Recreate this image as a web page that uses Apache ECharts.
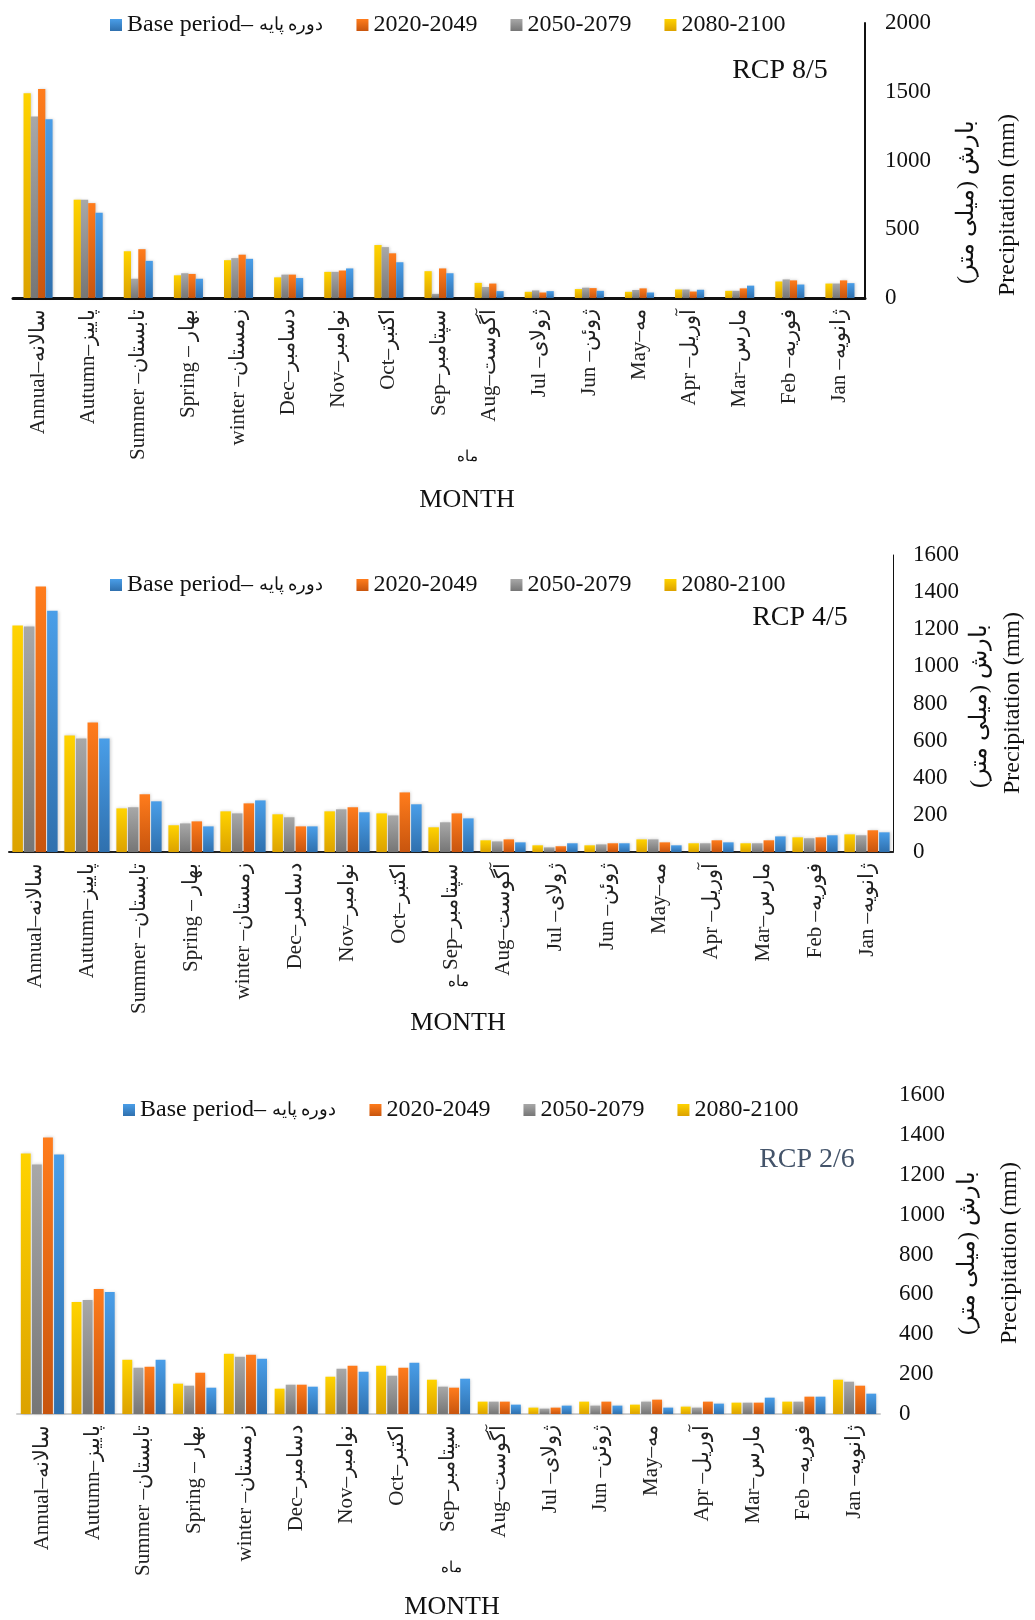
<!DOCTYPE html>
<html>
<head>
<meta charset="utf-8">
<script src="https://cdn.jsdelivr.net/npm/echarts@6/dist/echarts.min.js"></script>
<style>
  html, body { margin: 0; padding: 0; background: #fff; }
  #chart { width: 1035px; height: 1620px; }
</style>
</head>
<body>
<div id="chart"></div>
<script>
// categories (reversed axis in the original, so Annual comes first)
const categories = [
  'Annual–سالانه', 'Autumn–پاییز', 'Summer –تابستان', 'Spring – بهار', 'winter –زمستان',
  'Dec–دسامبر', 'Nov–نوامبر', 'Oct–اکتبر', 'Sep–سپتامبر', 'Aug–آگوست', 'Jul –ژولای',
  'Jun –ژوئن', 'May–مه', 'Apr –آوریل', 'Mar–مارس', 'Feb –فوریه', 'Jan –ژانویه'
];
const seriesNames = ['Base period– دوره پایه', '2020-2049', '2050-2079', '2080-2100'];

// RCP 8.5
const base85 = [1300, 620, 270, 140, 285, 145, 215, 260, 180, 50, 50, 52, 40, 60, 90, 98, 108];
const p2020_85 = [1520, 690, 355, 175, 315, 170, 200, 325, 215, 105, 40, 72, 70, 47, 70, 128, 128];
const p2050_85 = [1320, 715, 140, 180, 290, 170, 190, 370, 30, 80, 55, 75, 58, 62, 52, 135, 105];
const p2080_85 = [1490, 715, 340, 165, 275, 150, 190, 385, 195, 110, 45, 65, 45, 62, 52, 120, 105];

// RCP 4.5
const base45 = [1300, 612, 273, 138, 278, 138, 214, 257, 181, 52, 47, 47, 36, 52, 84, 90, 106];
const p2020_45 = [1430, 698, 311, 165, 262, 138, 241, 321, 208, 68, 31, 47, 52, 63, 63, 79, 117];
const p2050_45 = [1215, 612, 241, 154, 208, 187, 230, 197, 160, 57, 25, 41, 68, 47, 47, 74, 90];
const p2080_45 = [1220, 628, 235, 144, 219, 203, 219, 208, 133, 63, 36, 36, 68, 47, 47, 79, 95];

// RCP 2.6
const base26 = [1302, 612, 272, 132, 277, 137, 212, 257, 177, 47, 42, 42, 32, 52, 82, 87, 102];
const p2020_26 = [1387, 627, 237, 207, 297, 147, 242, 232, 132, 62, 32, 62, 72, 62, 57, 87, 142];
const p2050_26 = [1252, 572, 232, 142, 287, 147, 227, 192, 137, 62, 27, 42, 62, 32, 57, 62, 162];
const p2080_26 = [1307, 562, 272, 152, 302, 127, 187, 242, 172, 62, 32, 62, 47, 37, 57, 62, 172];

const serif = "'Liberation Serif', 'DejaVu Serif', serif";

const grad = (top, bottom) =>
  new echarts.graphic.LinearGradient(0, 0, 0, 1, [
    { offset: 0, color: top },
    { offset: 1, color: bottom },
  ]);

const colors = {
  base: grad('#4A9EE8', '#2F70AE'),
  p2020: grad('#FF7C1C', '#C8550E'),
  p2050: grad('#A8A8A8', '#767676'),
  p2080: grad('#FFD300', '#DCA200'),
};

function panelSeries(idx, d2080, d2050, d2020, dBase, gap, catGap) {
  // bar order inside a group follows the reversed series order of the original
  const list = [
    [seriesNames[3], d2080, colors.p2080],
    [seriesNames[2], d2050, colors.p2050],
    [seriesNames[1], d2020, colors.p2020],
    [seriesNames[0], dBase, colors.base],
  ];
  return list.map(([name, data, color]) => ({
    name: name,
    type: 'bar',
    xAxisIndex: idx,
    yAxisIndex: idx,
    data: data,
    barGap: gap,
    barCategoryGap: catGap,
    itemStyle: {
      color: color,
      shadowColor: 'rgba(0,0,0,0.18)',
      shadowBlur: 3,
      shadowOffsetX: 1,
    },
  }));
}

function legendAt(left, top, gap) {
  return {
    left: left,
    top: top,
    padding: 0,
    itemGap: gap,
    itemWidth: 12,
    itemHeight: 12,
    icon: 'rect',
    data: seriesNames,
    formatter: (name) => {
      // the Persian part is set in a smaller face, like the original
      const cut = name.indexOf('– ');
      if (cut < 0) return name;
      return '{en|' + name.slice(0, cut + 1) + '} {fa|' + name.slice(cut + 2) + '}';
    },
    textStyle: {
      fontFamily: serif,
      fontSize: 24,
      color: '#111',
      rich: {
        en: { fontFamily: serif, fontSize: 24, color: '#111' },
        fa: { fontFamily: serif, fontSize: 18, color: '#111' },
      },
    },
  };
}

function xAxisFor(idx, lineColor, lineWidth) {
  return {
    type: 'category',
    gridIndex: idx,
    data: categories,
    axisLine: { show: true, lineStyle: { color: lineColor, width: lineWidth } },
    axisTick: { show: false },
    axisLabel: {
      interval: 0,
      rotate: 90,
      margin: 11,
      fontFamily: serif,
      fontSize: 21,
      color: '#222',
    },
  };
}

function yAxisFor(idx, max, interval, lineWidth, margin) {
  return {
    type: 'value',
    gridIndex: idx,
    position: 'right',
    min: 0,
    max: max,
    interval: interval,
    axisLine: { show: lineWidth > 0, lineStyle: { color: '#111', width: lineWidth } },
    axisTick: { show: false },
    splitLine: { show: false },
    axisLabel: {
      margin: margin,
      fontFamily: serif,
      fontSize: 23,
      color: '#111',
      formatter: (v) => String(v),
    },
  };
}

function rotText(x, y, text, size, color) {
  return {
    type: 'text',
    x: x,
    y: y,
    rotation: Math.PI / 2,
    style: {
      text: text,
      font: size + 'px ' + serif,
      fill: color || '#111',
      align: 'center',
      verticalAlign: 'middle',
    },
  };
}

function flatText(x, y, text, size, color) {
  return {
    type: 'text',
    x: x,
    y: y,
    style: {
      text: text,
      font: size + 'px ' + serif,
      fill: color || '#111',
      align: 'center',
      verticalAlign: 'middle',
    },
  };
}

const option = {
  backgroundColor: '#ffffff',
  animation: false,
  legend: [
    legendAt(110, 13, 33),
    legendAt(110, 573, 33),
    legendAt(123, 1098, 33),
  ],
  grid: [
    { left: 13, width: 852, top: 23, height: 275, containLabel: false },
    { left: 9, width: 884, top: 555, height: 297, containLabel: false },
    { left: 17, width: 863, top: 1095, height: 319, containLabel: false },
  ],
  xAxis: [
    xAxisFor(0, '#111', 3),
    xAxisFor(1, '#222', 2),
    xAxisFor(2, '#cfcfcf', 2),
  ],
  yAxis: [
    yAxisFor(0, 2000, 500, 2, 20),
    yAxisFor(1, 1600, 200, 1, 20),
    yAxisFor(2, 1600, 200, 0, 19),
  ],
  series: [
    ...panelSeries(0, p2080_85, p2050_85, p2020_85, base85, '0%', '42%'),
    ...panelSeries(1, p2080_45, p2050_45, p2020_45, base45, '10%', '13%'),
    ...panelSeries(2, p2080_26, p2050_26, p2020_26, base26, '12%', '15%'),
  ],
  graphic: [
    // panel 1
    flatText(780, 71, 'RCP 8/5', 28),
    rotText(967, 202, 'بارش (میلی متر)', 24),
    rotText(1008, 205, 'Precipitation (mm)', 24),
    flatText(467, 457, 'ماه', 15),
    flatText(467, 500, 'MONTH', 26),
    // panel 2
    flatText(800, 618, 'RCP 4/5', 28),
    rotText(980, 706, 'بارش (میلی متر)', 24),
    rotText(1013, 703, 'Precipitation (mm)', 24),
    flatText(458, 982, 'ماه', 15),
    flatText(458, 1023, 'MONTH', 26),
    // panel 3
    flatText(807, 1160, 'RCP 2/6', 28, '#44546A'),
    rotText(968, 1253, 'بارش (میلی متر)', 24),
    rotText(1010, 1253, 'Precipitation (mm)', 24),
    flatText(451, 1568, 'ماه', 15),
    flatText(452, 1607, 'MONTH', 26),
  ],
};

const chart = echarts.init(document.getElementById('chart'), null, { renderer: 'canvas' });
chart.setOption(option);
</script>
</body>
</html>
